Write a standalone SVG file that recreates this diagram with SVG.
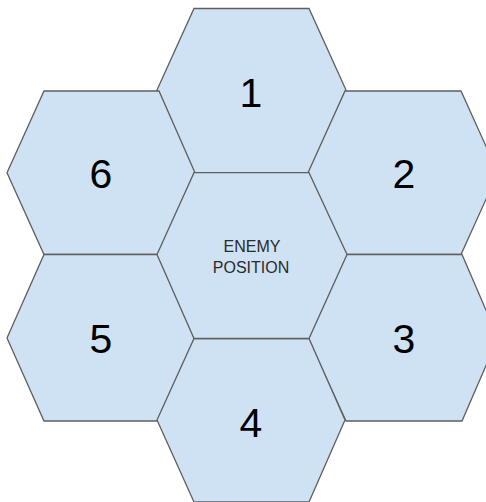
<svg xmlns="http://www.w3.org/2000/svg" width="486" height="502" viewBox="0 0 486 502">
<style>
.hex{fill:#cfe2f3;stroke:#5f5f5f;stroke-width:1.3;stroke-linejoin:miter}
.num{font-family:"Liberation Sans",Arial,sans-serif;font-size:41px;fill:#000000;text-anchor:middle}
.lbl{font-family:"Liberation Sans",Arial,sans-serif;font-size:16px;fill:#2a2a2a;text-anchor:middle}
</style>
<rect width="486" height="502" fill="#ffffff"/>
<g id="hex1">
<polygon class="hex" points="194,8.5 309,8.5 346,90 309,172.7 194,172.7 157,90"/>
<text class="num" x="251" y="107">1</text>
</g>
<g id="hex6">
<polygon class="hex" points="44,91 159,91 195,172.7 159,254.5 44,254.5 7,172.7"/>
<text class="num" x="101" y="188">6</text>
</g>
<g id="hex2">
<polygon class="hex" points="345,91 461,91 498,172.7 461,254.5 345,254.5 308,172.7"/>
<text class="num" x="404" y="188">2</text>
</g>
<g id="hex5">
<polygon class="hex" points="44,254.5 158,254.5 195,338 158,421 44,421 7,338"/>
<text class="num" x="101" y="353">5</text>
</g>
<g id="hex3">
<polygon class="hex" points="346,254.5 462,254.5 498,338 462,421 346,421 308,338"/>
<text class="num" x="404" y="353">3</text>
</g>
<g id="hex4">
<polygon class="hex" points="194,338.5 309,338.5 345,420 309,502 194,502 157,420"/>
<text class="num" x="251" y="437">4</text>
</g>
<g id="enemy">
<polygon class="hex" points="194,172.7 309,172.7 347,254.5 309,338.5 194,338.5 157,254.5"/>
<text class="lbl" x="252" y="251.5">ENEMY</text>
<text class="lbl" x="251" y="272.5">POSITION</text>
</g>
<g id="connectors"/>
</svg>
